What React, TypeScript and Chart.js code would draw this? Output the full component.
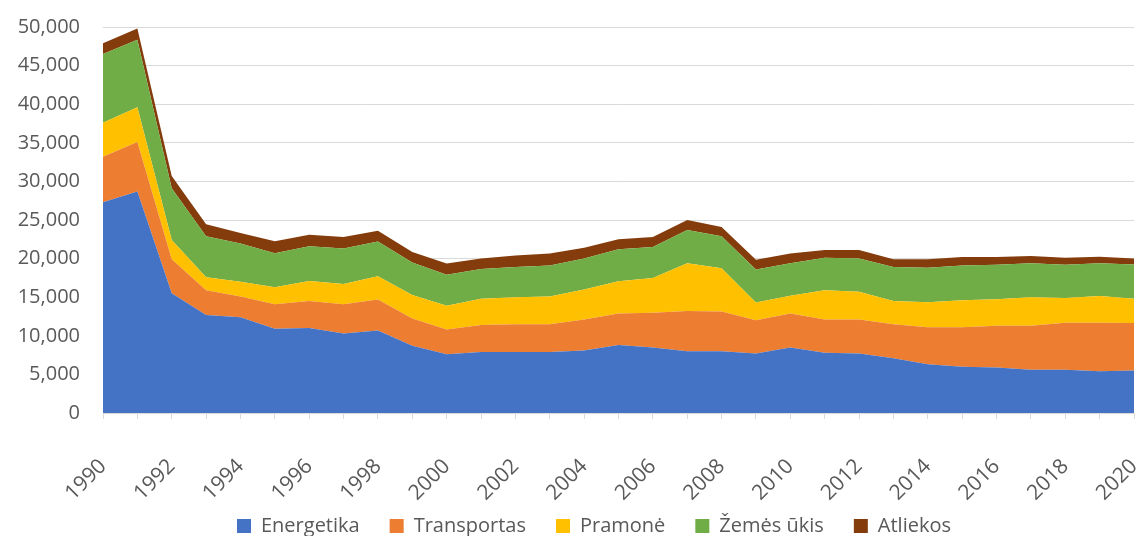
import React, { useEffect, useRef } from "react";
import { Chart, registerables } from "chart.js";

Chart.register(...registerables);

const years = [
  "1990", "1991", "1992", "1993", "1994", "1995", "1996", "1997", "1998", "1999",
  "2000", "2001", "2002", "2003", "2004", "2005", "2006", "2007", "2008", "2009",
  "2010", "2011", "2012", "2013", "2014", "2015", "2016", "2017", "2018", "2019", "2020",
];

const energetika = [27300, 28700, 15500, 12700, 12400, 10900, 11000, 10300, 10700, 8700, 7600, 7900, 7900, 7900, 8100, 8800, 8500, 8000, 8000, 7700, 8500, 7800, 7700, 7100, 6300, 6000, 5900, 5600, 5600, 5400, 5500];
const transportas = [5900, 6400, 4400, 3200, 2700, 3200, 3500, 3800, 4000, 3550, 3200, 3500, 3600, 3600, 4000, 4100, 4500, 5200, 5150, 4300, 4400, 4300, 4400, 4400, 4800, 5100, 5400, 5700, 6100, 6300, 6150];
const pramone = [4400, 4500, 2500, 1700, 1900, 2200, 2600, 2600, 3000, 3050, 3100, 3400, 3500, 3600, 3900, 4150, 4500, 6200, 5600, 2300, 2300, 3800, 3600, 3000, 3250, 3500, 3450, 3700, 3200, 3450, 3150];
const zemesUkis = [8900, 8750, 6700, 5300, 4950, 4400, 4500, 4600, 4500, 4200, 4000, 3850, 3900, 4000, 4000, 4150, 4000, 4300, 4150, 4300, 4200, 4200, 4300, 4400, 4450, 4500, 4450, 4400, 4300, 4250, 4450];
const atliekos = [1400, 1450, 1600, 1550, 1350, 1550, 1500, 1500, 1400, 1350, 1450, 1350, 1500, 1550, 1400, 1300, 1300, 1300, 1200, 1250, 1250, 1000, 1100, 1000, 1100, 1100, 1000, 950, 900, 850, 750];

const seriesNames = ["Energetika", "Transportas", "Pramonė", "Žemės ūkis", "Atliekos"];
const seriesColors = ["#4472C4", "#ED7D31", "#FFC000", "#70AD47", "#843C0C"];

const FONT = "'Open Sans', 'Liberation Sans', sans-serif";

const legendShift = {
  id: "legendShift",
  afterLayout(chart: any) {
    const l = chart.legend;
    if (l) {
      l.left += 27;
      l.right += 27;
    }
  },
};

export default function App() {
  const canvasRef = useRef<HTMLCanvasElement | null>(null);

  useEffect(() => {
    document.body.style.margin = "0";
    const canvas = canvasRef.current;
    if (!canvas) return;
    const values = [energetika, transportas, pramone, zemesUkis, atliekos];
    const chart = new Chart(canvas, {
      type: "line",
      data: {
        labels: years,
        datasets: values.map((v, i) => ({
          label: seriesNames[i],
          data: v,
          backgroundColor: seriesColors[i],
          borderColor: seriesColors[i],
          borderWidth: 0,
          pointRadius: 0,
          fill: i === 0 ? "origin" : "-1",
          tension: 0,
        })),
      },
      plugins: [legendShift],
      options: {
        responsive: false,
        animation: false,
        layout: { padding: { top: 27, right: 6, left: 0, bottom: -10 } },
        plugins: {
          tooltip: { enabled: false },
          legend: {
            position: "bottom",
            labels: {
              boxWidth: 14,
              boxHeight: 14,
              padding: 30,
              color: "#595959",
              font: { family: FONT, size: 20 },
            },
          },
        },
        scales: {
          x: {
            offset: false,
            grid: {
              drawOnChartArea: false,
              drawTicks: true,
              tickLength: 6,
              color: "#d9d9d9",
            },
            border: { display: true, color: "#d9d9d9" },
            ticks: {
              autoSkip: false,
              maxRotation: 45,
              minRotation: 45,
              padding: 35,
              color: "#595959",
              font: { family: FONT, size: 21 },
              callback: (_v: any, idx: number) => (idx % 2 === 0 ? years[idx] : ""),
            },
            afterFit: (scale: any) => {
              scale.height = 73;
              scale.paddingRight = 0;
              scale.paddingLeft = 0;
              scale._computeLabelArea = () => undefined;
            },
          },
          y: {
            stacked: true,
            min: 0,
            max: 50000,
            grid: { color: "#d9d9d9", drawTicks: false },
            border: { display: false },
            ticks: {
              stepSize: 5000,
              padding: 23,
              color: "#595959",
              font: { family: FONT, size: 20 },
              callback: (v: any) => Number(v).toLocaleString("en-US"),
            },
            afterFit: (scale: any) => {
              scale.width = 103;
              scale.paddingTop = 0;
              scale.paddingBottom = 0;
            },
          },
        },
      },
    });
    return () => chart.destroy();
  }, []);

  return (
    <div style={{ width: 1140, height: 536 }}>
      <canvas ref={canvasRef} width={1140} height={536} />
    </div>
  );
}
